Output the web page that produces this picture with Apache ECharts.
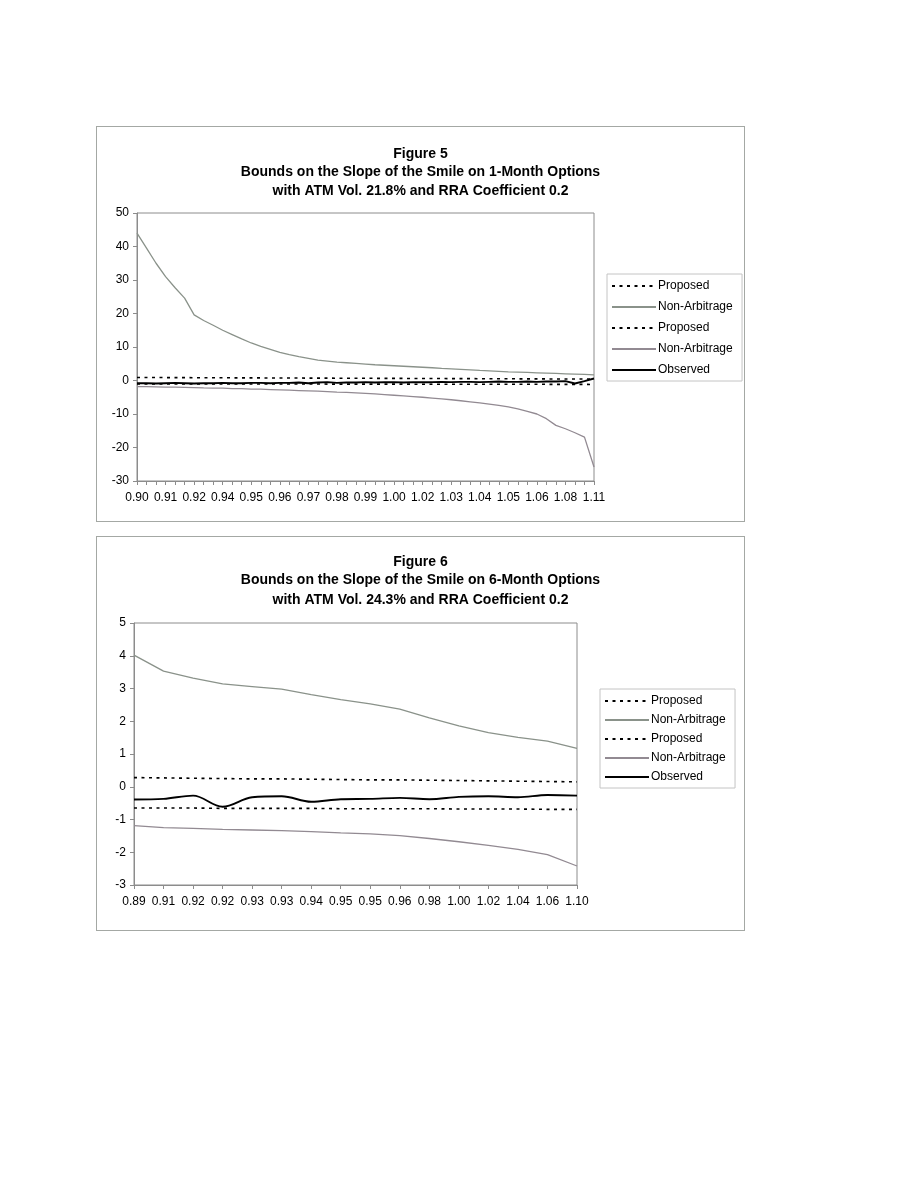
<!DOCTYPE html>
<html>
<head>
<meta charset="utf-8">
<script src="https://cdn.jsdelivr.net/npm/echarts@6/dist/echarts.min.js"></script>
<style>
  html, body { margin: 0; padding: 0; background: #ffffff; }
  .box { position: absolute; border: 1px solid #a4a8a4; background: #fff; }
  #fig5 { left: 96px; top: 126px; width: 647px; height: 394px; }
  #fig6 { left: 96px; top: 536px; width: 647px; height: 393px; }
</style>
</head>
<body>
<div id="fig5" class="box"></div>
<div id="fig6" class="box"></div>
<script>
// ---------- Figure 5 data (1-month options) ----------
const fig5TitleLines = ["Figure 5", "Bounds on the Slope of the Smile on 1-Month Options", "with ATM Vol. 21.8% and RRA Coefficient 0.2"];
const fig5Categories = ["0.90","0.90","0.91","0.91","0.91","0.92","0.92","0.93","0.93","0.94","0.94","0.94","0.95","0.95","0.96","0.96","0.96","0.97","0.97","0.97","0.98","0.98","0.98","0.99","0.99","0.99","1.00","1.00","1.01","1.01","1.02","1.02","1.02","1.03","1.03","1.04","1.04","1.04","1.05","1.05","1.05","1.06","1.06","1.07","1.07","1.08","1.09","1.10","1.11"];
const fig5ProposedUpper = [0.90,0.89,0.88,0.87,0.86,0.85,0.84,0.83,0.82,0.81,0.80,0.79,0.78,0.77,0.76,0.75,0.74,0.73,0.72,0.71,0.70,0.69,0.68,0.67,0.66,0.65,0.64,0.63,0.62,0.61,0.60,0.59,0.58,0.57,0.56,0.55,0.54,0.53,0.52,0.51,0.50,0.49,0.48,0.47,0.46,0.45,0.44,0.43,0.42];
const fig5NonArbUpper = [44.0,39.5,35.0,31.0,27.7,24.6,19.6,17.9,16.5,15.0,13.7,12.4,11.2,10.2,9.3,8.4,7.7,7.1,6.6,6.1,5.8,5.5,5.3,5.1,4.9,4.7,4.55,4.4,4.25,4.1,3.95,3.8,3.6,3.45,3.3,3.15,3.0,2.9,2.75,2.6,2.5,2.4,2.3,2.2,2.1,2.0,1.9,1.8,1.7];
const fig5ProposedLower = [-1.00,-1.00,-1.01,-1.01,-1.01,-1.02,-1.02,-1.02,-1.03,-1.03,-1.03,-1.04,-1.04,-1.04,-1.05,-1.05,-1.05,-1.06,-1.06,-1.06,-1.07,-1.07,-1.07,-1.08,-1.08,-1.08,-1.09,-1.09,-1.09,-1.10,-1.10,-1.10,-1.11,-1.11,-1.11,-1.12,-1.12,-1.12,-1.13,-1.13,-1.13,-1.14,-1.14,-1.14,-1.15,-1.15,-1.15,-1.16,-1.20];
const fig5NonArbLower = [-1.8,-1.85,-1.9,-1.95,-2.0,-2.05,-2.1,-2.2,-2.25,-2.3,-2.4,-2.45,-2.55,-2.6,-2.7,-2.8,-2.9,-3.0,-3.1,-3.2,-3.3,-3.45,-3.55,-3.7,-3.85,-4.0,-4.2,-4.4,-4.6,-4.8,-5.0,-5.25,-5.5,-5.75,-6.05,-6.35,-6.7,-7.05,-7.45,-7.9,-8.5,-9.2,-10.0,-11.4,-13.4,-14.4,-15.6,-16.9,-25.8];
const fig5Observed = [-0.8,-0.8,-0.9,-0.8,-0.7,-0.8,-0.9,-0.8,-0.8,-0.7,-0.8,-0.8,-0.7,-0.7,-0.8,-0.7,-0.7,-0.6,-0.8,-0.6,-0.5,-0.7,-0.6,-0.6,-0.5,-0.6,-0.5,-0.5,-0.6,-0.5,-0.5,-0.5,-0.4,-0.5,-0.4,-0.4,-0.5,-0.4,-0.3,-0.4,-0.4,-0.3,-0.4,-0.3,-0.3,-0.2,-0.9,-0.2,0.6];
const fig5YTicks = { min: -30, max: 50, interval: 10 };

// ---------- Figure 6 data (6-month options) ----------
const fig6TitleLines = ["Figure 6", "Bounds on the Slope of the Smile on 6-Month Options", "with ATM Vol. 24.3% and RRA Coefficient 0.2"];
const fig6Categories = ["0.89","0.91","0.92","0.92","0.93","0.93","0.94","0.95","0.95","0.96","0.98","1.00","1.02","1.04","1.06","1.10"];
const fig6ProposedUpper = [0.28,0.27,0.26,0.25,0.24,0.24,0.23,0.22,0.21,0.21,0.20,0.19,0.18,0.17,0.16,0.15];
const fig6NonArbUpper = [4.02,3.53,3.32,3.14,3.06,2.98,2.81,2.66,2.53,2.37,2.10,1.86,1.65,1.51,1.39,1.17];
const fig6ProposedLower = [-0.65,-0.65,-0.65,-0.66,-0.66,-0.66,-0.66,-0.67,-0.67,-0.67,-0.67,-0.68,-0.68,-0.68,-0.69,-0.69];
const fig6NonArbLower = [-1.19,-1.25,-1.27,-1.30,-1.32,-1.34,-1.37,-1.41,-1.44,-1.49,-1.58,-1.68,-1.79,-1.91,-2.07,-2.42];
const fig6Observed = [-0.39,-0.37,-0.27,-0.61,-0.32,-0.29,-0.46,-0.38,-0.37,-0.34,-0.38,-0.31,-0.29,-0.32,-0.25,-0.27];
const fig6YTicks = { min: -3, max: 5, interval: 1 };

const FONT = "'Liberation Sans', Arial, Helvetica, sans-serif";
const seriesNames = ["Proposed", "Non-Arbitrage", "Proposed ", "Non-Arbitrage ", "Observed"];

function buildOption(cfg) {
  const dotted = { color: '#000', width: 1.6, type: [3, 4.5] };
  const mk = (name, data, style, extra) => Object.assign({
    name: name, type: 'line', data: data, symbol: 'none',
    lineStyle: style, itemStyle: { color: style.color }, animation: false
  }, extra || {});
  const titles = cfg.titleLines.map((t, i) => ({
    text: t, left: 'center', top: cfg.titleTops[i], padding: 0,
    textStyle: { fontFamily: FONT, fontSize: 14, fontWeight: 'bold', color: '#000' }
  }));
  return {
    animation: false,
    textStyle: { fontFamily: FONT },
    title: titles,
    legend: {
      orient: 'vertical', left: cfg.legend.left, top: cfg.legend.top,
      width: cfg.legend.width,
      data: seriesNames,
      itemWidth: 44, itemHeight: 10, itemGap: cfg.legend.gap,
      padding: cfg.legend.padding,
      borderColor: '#c4c4c4', borderWidth: 1,
      selectedMode: false,
      itemStyle: { opacity: 0 },
      textStyle: { fontFamily: FONT, fontSize: 12, color: '#000', padding: [0, 0, 0, -3] }
    },
    grid: {
      left: cfg.grid.left, top: cfg.grid.top, width: cfg.grid.width, height: cfg.grid.height,
      show: true, borderColor: '#8c8c8c', borderWidth: 1, backgroundColor: '#fff'
    },
    xAxis: {
      type: 'category', data: cfg.categories, boundaryGap: false,
      axisLine: { onZero: false, lineStyle: { color: '#8c8c8c', width: 1 } },
      axisTick: { show: true, interval: 0, length: 4, lineStyle: { color: '#8c8c8c' } },
      axisLabel: { interval: cfg.labelInterval, color: '#000', fontSize: 12, fontFamily: FONT, margin: 11 },
      splitLine: { show: false }
    },
    yAxis: {
      type: 'value', min: cfg.y.min, max: cfg.y.max, interval: cfg.y.interval,
      axisLine: { show: true, lineStyle: { color: '#8c8c8c', width: 1 } },
      axisTick: { show: true, length: 4, lineStyle: { color: '#8c8c8c' } },
      axisLabel: { color: '#000', fontSize: 12, fontFamily: FONT, margin: 8 },
      splitLine: { show: false }
    },
    series: [
      mk(seriesNames[0], cfg.pu, dotted),
      mk(seriesNames[1], cfg.nu, { color: '#8a928a', width: 1.3 }),
      mk(seriesNames[2], cfg.pl, dotted),
      mk(seriesNames[3], cfg.nl, { color: '#928a92', width: 1.3 }),
      mk(seriesNames[4], cfg.ob, { color: '#000', width: 1.9 }, { smooth: cfg.smoothObs ? 0.35 : false, z: 5 })
    ]
  };
}

const c5 = echarts.init(document.getElementById('fig5'), null, { renderer: 'canvas' });
c5.setOption(buildOption({
  titleLines: fig5TitleLines, titleTops: [20, 38, 57],
  legend: { left: 510, top: 147, width: 134, gap: 9, padding: [6, 6, 5, 4] },
  grid: { left: 40, top: 86, width: 457, height: 268 },
  categories: fig5Categories, labelInterval: 2, y: fig5YTicks,
  pu: fig5ProposedUpper, nu: fig5NonArbUpper, pl: fig5ProposedLower, nl: fig5NonArbLower, ob: fig5Observed,
  smoothObs: false
}));

const c6 = echarts.init(document.getElementById('fig6'), null, { renderer: 'canvas' });
c6.setOption(buildOption({
  titleLines: fig6TitleLines, titleTops: [18, 36, 56],
  legend: { left: 503, top: 152, width: 133, gap: 7, padding: [6, 6, 5, 4] },
  grid: { left: 37, top: 86, width: 443, height: 262 },
  categories: fig6Categories, labelInterval: 0, y: fig6YTicks,
  pu: fig6ProposedUpper, nu: fig6NonArbUpper, pl: fig6ProposedLower, nl: fig6NonArbLower, ob: fig6Observed,
  smoothObs: true
}));
</script>
</body>
</html>
